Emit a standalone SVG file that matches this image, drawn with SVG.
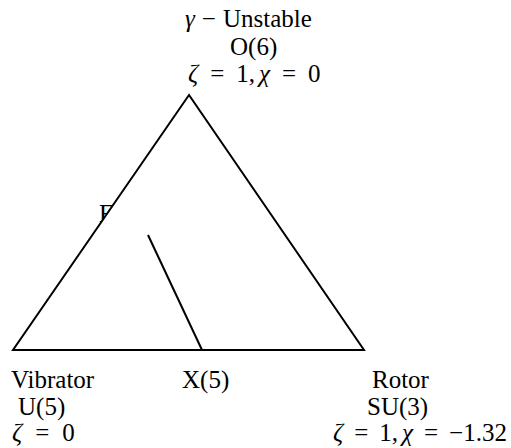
<svg xmlns="http://www.w3.org/2000/svg" width="511" height="448" viewBox="0 0 511 448">
<style>
text{font-family:"Liberation Serif","Times New Roman",serif;font-size:25px;fill:#000}
.g{font-style:italic}
.edge{stroke:#000;stroke-width:2;fill:none}
.tri{stroke:#000;stroke-width:2;fill:#fff}
</style>
<rect width="511" height="448" fill="#fff"/>
<g id="hidden-label">
<text x="99" y="222">E(5)</text>
</g>
<g id="connectors">
<polygon class="tri" points="189,95 13,350 364,350"/>
<line class="edge" x1="148" y1="235" x2="202" y2="350"/>
</g>
<g id="node-O6">
<text x="185" y="27"><tspan class="g">γ</tspan><tspan dx="7">−</tspan><tspan dx="7">Unstable</tspan></text>
<text x="230" y="55">O(6)</text>
<text x="188" y="82"><tspan class="g">ζ</tspan><tspan dx="12">=</tspan><tspan dx="12">1,</tspan><tspan class="g" dx="4">χ</tspan><tspan dx="12">=</tspan><tspan dx="12">0</tspan></text>
</g>
<g id="node-U5">
<text x="11" y="388">Vibrator</text>
<text x="18" y="415">U(5)</text>
<text x="12" y="441"><tspan class="g">ζ</tspan><tspan dx="13">=</tspan><tspan dx="13">0</tspan></text>
</g>
<g id="node-X5">
<text x="182" y="388">X(5)</text>
</g>
<g id="node-SU3">
<text x="372" y="388">Rotor</text>
<text x="367" y="415">SU(3)</text>
<text x="333" y="441"><tspan class="g">ζ</tspan><tspan dx="11">=</tspan><tspan dx="11">1,</tspan><tspan class="g" dx="4">χ</tspan><tspan dx="11">=</tspan><tspan dx="11">−1.32</tspan></text>
</g>
</svg>
